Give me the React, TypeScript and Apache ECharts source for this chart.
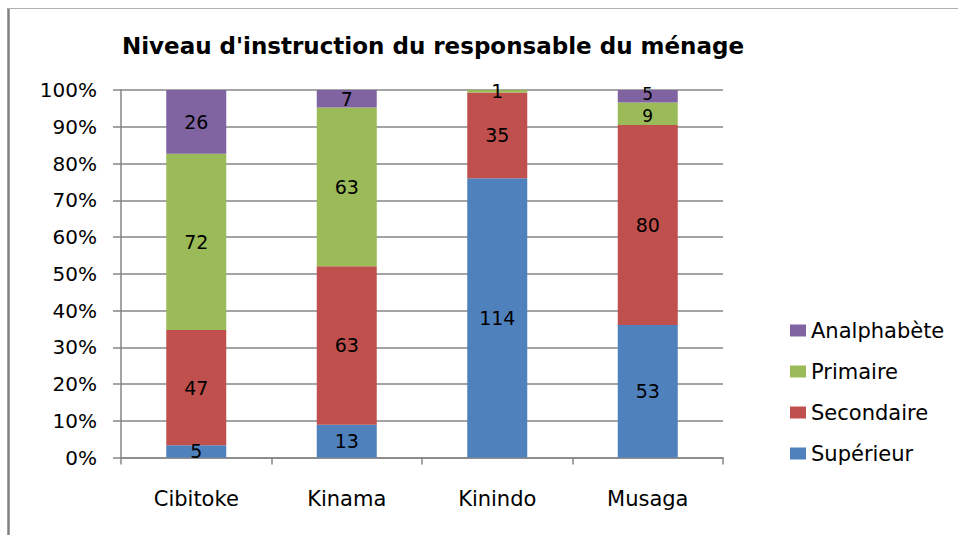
import React, { useEffect, useRef } from "react";
import * as echarts from "echarts";

const categories = ["Cibitoke", "Kinama", "Kinindo", "Musaga"];
const seriesNames = ["Supérieur", "Secondaire", "Primaire", "Analphabète"];
const superieur = [5, 13, 114, 53];
const secondaire = [47, 63, 35, 80];
const primaire = [72, 63, 1, 9];
const analphabete = [26, 7, 0, 5];
const yTicks = [0, 10, 20, 30, 40, 50, 60, 70, 80, 90, 100];
const colors = ["#4F81BD", "#C0504D", "#9BBB59", "#8064A2"];

const FONT = "DejaVu Sans";

export default function App() {
  const ref = useRef<HTMLDivElement>(null);
  useEffect(() => {
    if (!ref.current) return;
    const chart = echarts.init(ref.current, null, { renderer: "svg" });
    const raw = [superieur, secondaire, primaire, analphabete];
    const totals = categories.map((_, i) => raw.reduce((s, arr) => s + (arr[i] || 0), 0));
    const pct = raw.map((arr) => arr.map((v, i) => (v / totals[i]) * 100));
    const isSmall = (si: number, i: number) => si >= 0 && si < raw.length && raw[si][i] > 0 && pct[si][i] < 7;
    const series = raw.map((arr, si) => ({
      name: seriesNames[si],
      type: "bar",
      stack: "total",
      barWidth: 60,
      itemStyle: { color: colors[si] },
      data: arr.map((v, i) => {
        const below = isSmall(si, i) && isSmall(si - 1, i);
        const above = isSmall(si, i) && isSmall(si + 1, i);
        const crowded = below || above;
        return {
          value: pct[si][i],
          raw: v,
          label: crowded
            ? { fontSize: 17, lineHeight: 15, offset: [0, below && !above ? -2 : above && !below ? 2 : 0] }
            : undefined,
        };
      }),
      label: {
        show: true,
        position: "inside",
        color: "#000",
        fontFamily: FONT,
        fontSize: 19,
        lineHeight: 16,
        formatter: (p: any) => (p.data.raw ? String(p.data.raw) : ""),
      },
    }));
    chart.setOption({
      animation: false,
      backgroundColor: "#fff",
      graphic: [
        {
          type: "text",
          x: 433,
          y: 46,
          style: {
            text: "Niveau d'instruction du responsable du ménage",
            fontFamily: FONT,
            fontWeight: "bold",
            fontSize: 23,
            fill: "#000",
            textAlign: "center",
            textVerticalAlign: "middle",
          },
        },
        {
          type: "line",
          shape: { x1: 8.5, y1: 8, x2: 8.5, y2: 540 },
          style: { stroke: "#808080", lineWidth: 2.5 },
        },
        {
          type: "line",
          shape: { x1: 8, y1: 8.5, x2: 960, y2: 8.5 },
          style: { stroke: "#b0b0b0", lineWidth: 1 },
        },
      ],
      legend: {
        orient: "vertical",
        left: 785,
        top: 315,
        itemWidth: 16,
        itemHeight: 12,
        itemGap: 20,
        icon: "rect",
        data: [...seriesNames].reverse(),
        textStyle: { fontFamily: FONT, fontSize: 21, color: "#000", lineHeight: 20 },
      },
      grid: { left: 121, right: 235, top: 90, bottom: 77.5, containLabel: false },
      xAxis: {
        type: "category",
        data: categories,
        axisLine: { lineStyle: { color: "#868686", width: 1.5 } },
        axisTick: { show: true, alignWithLabel: false, length: 7, lineStyle: { color: "#868686", width: 1.5 } },
        axisLabel: { fontFamily: FONT, fontSize: 21, color: "#000", margin: 31 },
      },
      yAxis: {
        type: "value",
        min: yTicks[0],
        max: yTicks[yTicks.length - 1],
        interval: 10,
        axisLine: { show: true, lineStyle: { color: "#868686", width: 1.5 } },
        axisTick: { show: true, length: 8, inside: false, lineStyle: { color: "#868686", width: 1.5 } },
        splitLine: { show: true, lineStyle: { color: "#868686", width: 1.5 } },
        axisLabel: { fontFamily: FONT, fontSize: 20, color: "#000", margin: 24, formatter: "{value}%" },
      },
      series,
    });
    return () => chart.dispose();
  }, []);
  return <div ref={ref} style={{ width: 958, height: 535, position: "absolute", left: 0, top: 0 }} />;
}
